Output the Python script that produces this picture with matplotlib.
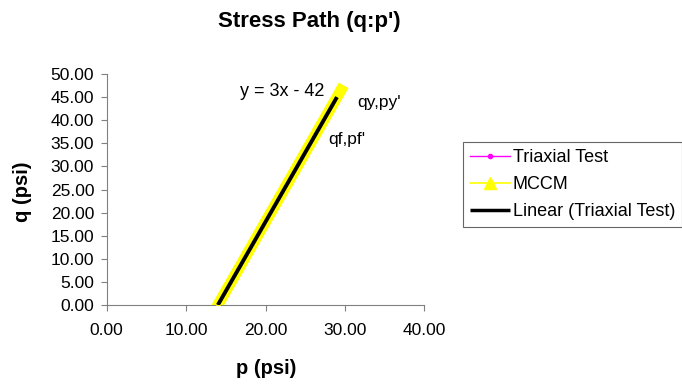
import matplotlib
matplotlib.use("Agg")
import matplotlib.pyplot as plt
import numpy as np

plt.rcParams['font.family'] = ['Liberation Sans', 'DejaVu Sans']

# Triaxial test stress path (p', q) in psi
triaxial_p = [14.0, 15.6, 17.1, 18.4, 20.1, 21.5, 23.0, 24.6, 26.0, 27.4, 29.0]
triaxial_q = [0.0, 4.7, 9.2, 13.3, 18.2, 22.6, 27.0, 31.7, 36.0, 40.3, 45.0]

# Modified Cam-Clay model prediction (p', q) in psi
mccm_p = [14.0, 14.8, 15.7, 16.6, 17.5, 18.4, 19.3, 20.2, 21.1, 22.0, 22.9,
          23.8, 24.7, 25.6, 26.5, 27.4, 28.3, 29.2, 29.5]
mccm_q = [0.0, 2.4, 5.1, 7.8, 10.5, 13.2, 15.9, 18.6, 21.3, 24.0, 26.7,
          29.4, 32.1, 34.8, 37.5, 40.2, 42.9, 45.6, 46.5]

# Linear trendline of the triaxial test data
trend_slope = 3
trend_intercept = -42

x_ticks = [0, 10, 20, 30, 40]
y_ticks = [0, 5, 10, 15, 20, 25, 30, 35, 40, 45, 50]

fig = plt.figure(figsize=(6.82, 3.86), dpi=100)
ax = fig.add_axes([106.7 / 682, 1 - 305 / 386, (424.3 - 106.7) / 682, (305 - 74) / 386])

ax.plot(triaxial_p, triaxial_q, color='#ff00ff', lw=1, marker='o', ms=3,
        label='Triaxial Test', zorder=2)
ax.plot(mccm_p, mccm_q, color='#ffff00', lw=8, marker='^', ms=5,
        solid_capstyle='projecting', label='MCCM', zorder=3)
tx = np.array([min(triaxial_p), max(triaxial_p)])
ax.plot(tx, trend_slope * tx + trend_intercept, color='black', lw=2.8,
        solid_capstyle='butt', label='Linear (Triaxial Test)', zorder=4)

ax.set_xlim(0, 40)
ax.set_ylim(0, 50)
ax.set_xticks(x_ticks)
ax.set_yticks(y_ticks)
ax.set_xticklabels([f"{v:.2f}" for v in x_ticks])
ax.set_yticklabels([f"{v:.2f}" for v in y_ticks])
ax.tick_params(axis='both', labelsize=12.5, length=4, direction='out',
               color='#808080', width=0.8)
ax.tick_params(axis='x', pad=9)
ax.tick_params(axis='y', pad=5)
for s in ['top', 'right']:
    ax.spines[s].set_visible(False)
for s in ['left', 'bottom']:
    ax.spines[s].set_color('#808080')
    ax.spines[s].set_linewidth(0.8)

fig.text(266 / 682, 1 - 369 / 386, 'p (psi)', ha='center', va='center',
         fontsize=14.5, fontweight='bold')
fig.text(23 / 682, 1 - 192 / 386, 'q (psi)', ha='center', va='center',
         rotation=90, fontsize=14.5, fontweight='bold')
fig.text(309 / 682, 1 - 22 / 386, "Stress Path (q:p')", ha='center', va='center',
         fontsize=16, fontweight='bold')

eq_label = f"y = {trend_slope}x - {abs(trend_intercept)}"
ax.text(16.8, 46.3, eq_label, fontsize=13, va='center', ha='left')
ax.text(31.6, 43.9, "qy,py'", fontsize=12.5, va='center', ha='left')
ax.text(27.9, 35.9, "qf,pf'", fontsize=12.5, va='center', ha='left')

leg = fig.legend(loc='upper left', bbox_to_anchor=(463 / 682, 1 - 142 / 386),
                 fontsize=13, frameon=True, fancybox=False, handlelength=2.2,
                 handletextpad=0.15, borderpad=0.4, labelspacing=0.55,
                 borderaxespad=0)
leg.get_frame().set_edgecolor('#404040')
leg.get_frame().set_linewidth(0.8)
for line in leg.get_lines():
    if line.get_label() == 'MCCM':
        line.set_linewidth(1.2)
        line.set_markersize(8)
    elif line.get_label() == 'Linear (Triaxial Test)':
        line.set_linewidth(2.5)

fig.savefig('out.png', dpi=100)
